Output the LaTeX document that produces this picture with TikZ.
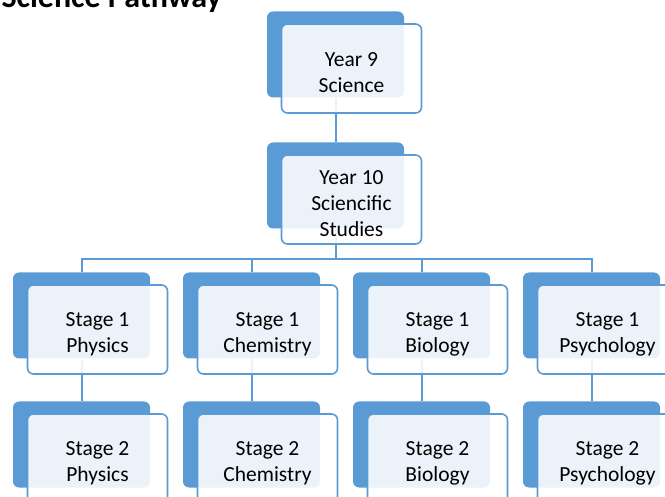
\documentclass[tikz,border=0pt]{standalone}
\usepackage{fontspec}
\setmainfont{Carlito}
\usetikzlibrary{positioning}
\definecolor{pathblue}{HTML}{5B9BD5}
\tikzset{
  backbox/.style={fill=pathblue, rounded corners=6pt, minimum width=137pt, minimum height=86pt, inner sep=0pt},
  frontbox/.style={draw=pathblue, line width=1.6pt, fill=white, fill opacity=0.88,
    rounded corners=6pt, minimum width=140pt, minimum height=89pt, inner sep=0pt},
  boxtext/.style={align=center, inner sep=0pt, font=\fontsize{21.5}{26}\selectfont},
  link/.style={draw=pathblue, line width=2pt}
}
\begin{document}
\begin{tikzpicture}[x=1pt,y=-1pt]
  \useasboundingbox (0,0) rectangle (665,497);
  \node[anchor=base west, font=\bfseries\fontsize{32}{36}\selectfont] (title) at (-2,8) {Science Pathway};
  % back boxes
  \node[backbox] (y9b) at (335.5,54.5) {};
  \node[backbox] (y10b) at (335.5,185.5) {};
  \foreach \i/\x in {1/81.5,2/251.5,3/421.5,4/591.5} {
    \node[backbox] (s1b-\i) at (\x,315.5) {};
    \node[backbox] (s2b-\i) at (\x,444.5) {};
  }
  % connectors
  \coordinate (bus) at (335.5,259);
  \draw[link] (y9b.south) -- (y10b.north);
  \draw[link] (y10b.south) -- (bus);
  \foreach \i in {1,2,3,4} {
    \draw[link] (bus) -| (s1b-\i.north);
    \draw[link] (s1b-\i.south) -- (s2b-\i.north);
  }
  % front boxes
  \node[frontbox] (y9) at ([shift={(16,14)}]y9b.center) {};
  \node[boxtext] (y9t) at ([shift={(0,4)}]y9.center) {Year 9\\Science};
  \node[frontbox] (y10) at ([shift={(16,14)}]y10b.center) {};
  \node[boxtext] (y10t) at ([shift={(0,4)}]y10.center) {Year 10\\Sciencific\\Studies};
  \foreach \i/\subj in {1/Physics,2/Chemistry,3/Biology,4/Psychology} {
    \node[frontbox] (s1-\i) at ([shift={(16,14)}]s1b-\i.center) {};
    \node[boxtext] (s1t-\i) at ([shift={(0,4.5)}]s1-\i.center) {Stage 1\\\subj};
    \node[frontbox] (s2-\i) at ([shift={(16,14)}]s2b-\i.center) {};
    \node[boxtext] (s2t-\i) at ([shift={(0,4.5)}]s2-\i.center) {Stage 2\\\subj};
  }
\end{tikzpicture}
\end{document}
